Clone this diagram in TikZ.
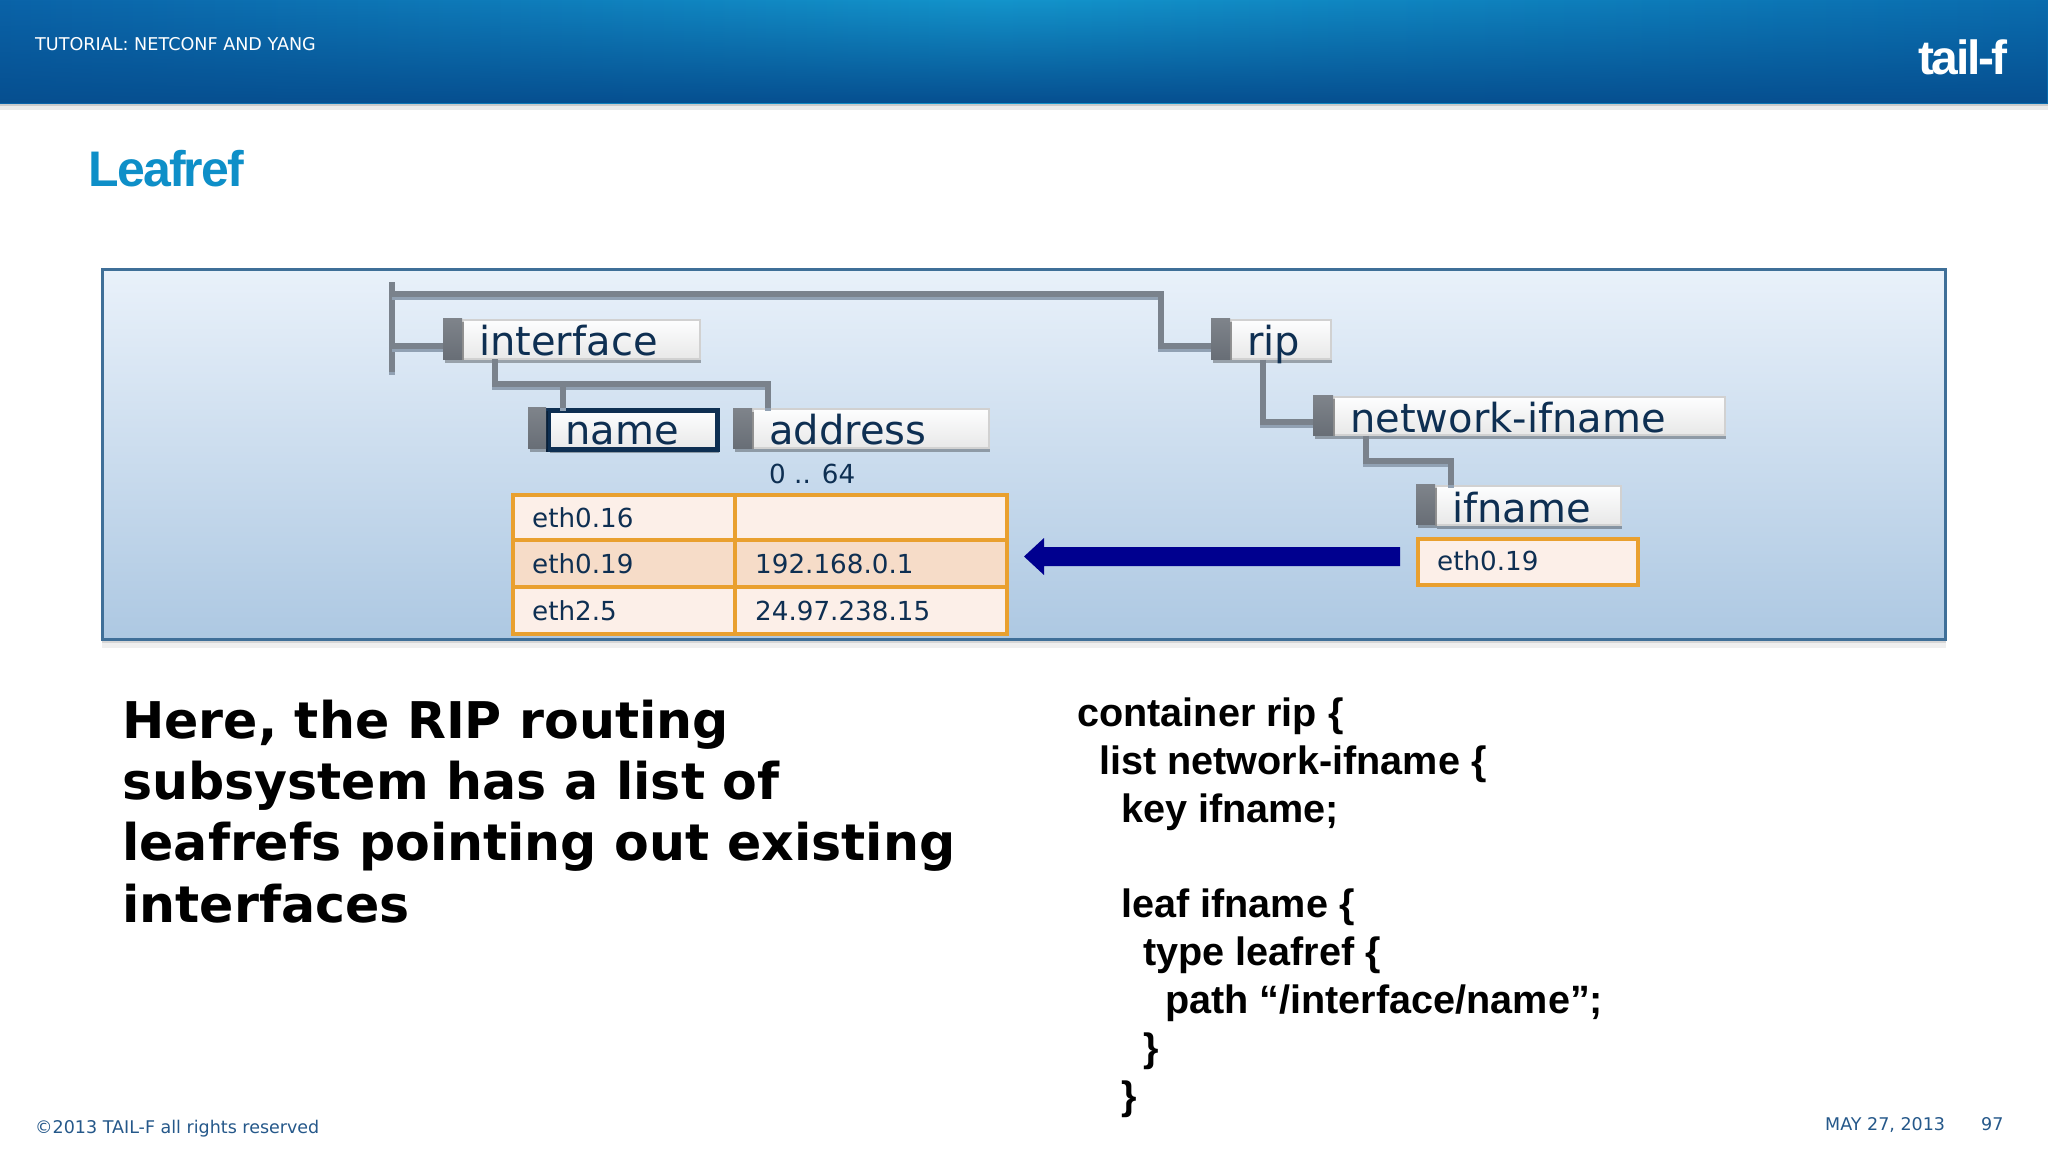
\documentclass[tikz,border=0pt]{standalone}
\usepackage{fontspec}
\setmainfont{DejaVu Sans}
\newfontfamily\arialb[Scale=1]{Liberation Sans}
\usetikzlibrary{fadings}
\definecolor{hdrL}{HTML}{0A63A8}
\definecolor{hdrM}{HTML}{1394CB}
\definecolor{hdrR}{HTML}{0A6CAE}
\definecolor{hdrD}{HTML}{064F90}
\definecolor{panelT}{HTML}{E9F1FA}
\definecolor{panelB}{HTML}{ADC8E2}
\definecolor{panelE}{HTML}{3F6F98}
\definecolor{conn}{HTML}{7A828C}
\definecolor{grip}{HTML}{686E76}
\definecolor{ink}{HTML}{0E2F52}
\definecolor{org}{HTML}{E9A02F}
\definecolor{cellA}{HTML}{FCEFE8}
\definecolor{cellB}{HTML}{F6DCC8}
\definecolor{arrowc}{HTML}{00008F}
\definecolor{title}{HTML}{0E8FC8}
\definecolor{foot}{HTML}{25588A}
\newcommand{\fs}[1]{\fontsize{#1}{#1}\selectfont}
\tikzset{
 x=1pt,y=-1pt,
 softshadow/.style={preaction={fill=black,opacity=.3,transform canvas={shift={(1.5pt,-4pt)}}}},
 connline/.style={draw=conn,line width=5.5pt,line cap=butt,line join=miter,
   preaction={draw=conn!55!panelB,line width=5.5pt,transform canvas={yshift=-3pt}}},
 treebox/.style={softshadow,draw=black!18,line width=1.5pt,top color=white!92!panelT,bottom color=black!9,inner sep=0pt,anchor=north west},
 gripbox/.style={softshadow,top color=grip!85,bottom color=grip,draw=none,inner sep=0pt,anchor=north west},
 treelabel/.style={anchor=base west,inner sep=0pt,text=ink,font=\fs{40}},
 celltext/.style={anchor=base west,inner sep=0pt,text=ink,font=\fs{26.2}},
 cell/.style={draw=org,line width=3.5pt,inner sep=0pt,anchor=north west},
 bodyline/.style={anchor=base west,inner sep=0pt,text=black,font=\bfseries\fs{50.6}},
 codeline/.style={anchor=base west,inner sep=0pt,text=black,font=\arialb\bfseries\fs{39.6}},
 foottext/.style={anchor=base west,inner sep=0pt,text=foot,font=\fs{17.5}},
}
\begin{document}
\begin{tikzpicture}
\useasboundingbox (0,0) rectangle (2048,1152);
\fill[white] (0,0) rectangle (2048,1152);
% header
\fill[black!40,opacity=.5] (0,102) rectangle (2048,106);
\fill[black!25,opacity=.3] (0,106) rectangle (2048,110);
\shade[left color=hdrL,right color=hdrM] (0,0) rectangle (1000,103);
\shade[left color=hdrM,right color=hdrR] (1000,0) rectangle (2048,103);
\fill[hdrD,path fading=north] (0,0) rectangle (2048,103);
\node[anchor=base west,inner sep=0pt,text=white,font=\fs{17.6}] (hdrtext) at (35,50) {TUTORIAL: NETCONF AND YANG};
\node[anchor=base west,inner sep=0pt,text=white,font=\arialb\bfseries\fs{48}] (logo) at (1918,74) {\addfontfeature{LetterSpace=-5}tail-f};
% title
\node[anchor=base west,inner sep=0pt,text=title,font=\arialb\bfseries\fs{50}] (pagetitle) at (88,186) {\addfontfeature{LetterSpace=-3.6}Leafref};
% panel
\fill[black!40,opacity=.4] (102,638) rectangle (1946,643);
\fill[black!20,opacity=.3] (102,643) rectangle (1946,648);
\node[draw=panelE,line width=3pt,top color=panelT,bottom color=panelB,inner sep=0pt,anchor=north west,minimum width=1843pt,minimum height=370pt] (panel) at (101,268) {};
% tree boxes
\node[treebox,minimum width=237pt,minimum height=39pt] (ifbox) at (462,319) {};
\node[gripbox,minimum width=19pt,minimum height=41pt] (ifgrip) at (443,318) {};
\node[treebox,minimum width=100pt,minimum height=39pt] (ripbox) at (1230,319) {};
\node[gripbox,minimum width=19pt,minimum height=41pt] (ripgrip) at (1211,318) {};
\node[treebox,minimum width=391pt,minimum height=38pt] (netbox) at (1333,396) {};
\node[gripbox,minimum width=20pt,minimum height=40pt] (netgrip) at (1313,395) {};
\node[treebox,minimum width=185pt,minimum height=39pt] (ifnbox) at (1435,485) {};
\node[gripbox,minimum width=19pt,minimum height=40pt] (ifngrip) at (1416,484) {};
\node[treebox,minimum width=236pt,minimum height=39pt] (addrbox) at (752,408) {};
\node[gripbox,minimum width=19pt,minimum height=40pt] (addrgrip) at (733,408) {};
\node[treebox,draw=ink,line width=4.5pt,minimum width=169pt,minimum height=39pt] (namebox) at (546,408) {};
\node[gripbox,minimum width=18pt,minimum height=41pt] (namegrip) at (528,407) {};
% connectors
\coordinate (barT) at (392,282);
\coordinate (barB) at (392,372);
\coordinate (j1) at (392,294);
\coordinate (j2) at (1161,294);
\coordinate (j3) at (392,346);
\coordinate (k1) at (495,384);
\coordinate (k2) at (768,384);
\coordinate (k3) at (563,384);
\coordinate (m1) at (1263,422);
\coordinate (n1) at (1366,461);
\coordinate (n2) at (1451,461);
\draw[connline] (barT) -- (barB);
\draw[connline] (j1) -- (j2) -- (j2 |- j3) -- (j3 -| ripgrip.west);
\draw[connline] (j3) -- (j3 -| ifgrip.west);
\draw[connline] (k1 |- ifgrip.south) -- (k1) -- (k2) -- (k2 |- addrbox.north);
\draw[connline] (k3) -- (k3 |- namebox.north);
\draw[connline] (m1 |- ripbox.south) -- (m1) -- (m1 -| netgrip.west);
\draw[connline] (n1 |- netbox.south) -- (n1) -- (n2) -- (n2 |- ifnbox.north);
% tree labels
\node[treelabel] (iftext) at (479,355) {interface};
\node[treelabel] (nametext) at (565,444) {name};
\node[treelabel] (addrtext) at (769,444) {address};
\node[treelabel] (riptext) at (1247,355) {rip};
\node[treelabel] (nettext) at (1350,432) {network-ifname};
\node[treelabel] (ifntext) at (1452,522) {ifname};
\node[celltext] (range) at (769,483) {0 .. 64};
% table
\node[cell,fill=cellA,minimum width=222pt,minimum height=45pt] (c11) at (511,493) {};
\node[cell,fill=cellA,minimum width=272pt,minimum height=45pt] (c12) at (733,493) {};
\node[cell,fill=cellB,minimum width=222pt,minimum height=47pt] (c21) at (511,538) {};
\node[cell,fill=cellB,minimum width=272pt,minimum height=47pt] (c22) at (733,538) {};
\node[cell,fill=cellA,minimum width=222pt,minimum height=47pt] (c31) at (511,585) {};
\node[cell,fill=cellA,minimum width=272pt,minimum height=47pt] (c32) at (733,585) {};
\node[celltext] (t11) at (532,527) {eth0.16};
\node[celltext] (t21) at (532,573) {eth0.19};
\node[celltext] (t22) at (755,573) {192.168.0.1};
\node[celltext] (t31) at (532,620) {eth2.5};
\node[celltext] (t32) at (755,620) {24.97.238.15};
\node[cell,fill=cellA,minimum width=220pt,minimum height=46pt] (refcell) at (1416,537) {};
\node[celltext] (reftext) at (1437,570) {eth0.19};
% arrow
\fill[arrowc] (1400,547) -- (1044,547) -- (1044,538) -- (1024,556.5) -- (1044,575) -- (1044,566) -- (1400,566) -- cycle;
% body
\node[bodyline] (b1) at (122,738) {Here, the RIP routing};
\node[bodyline] (b2) at (122,799) {subsystem has a list of};
\node[bodyline] (b3) at (122,860) {leafrefs pointing out existing};
\node[bodyline] (b4) at (122,922) {interfaces};
% code
\node[codeline] (l1) at (1077,726) {container rip \{};
\node[codeline] (l2) at (1099,774) {list network-ifname \{};
\node[codeline] (l3) at (1121,822) {key ifname;};
\node[codeline] (l4) at (1121,917) {leaf ifname \{};
\node[codeline] (l5) at (1143,965) {type leafref \{};
\node[codeline] (l6) at (1165,1013) {path “/interface/name”;};
\node[codeline] (l7) at (1143,1061) {\}};
\node[codeline] (l8) at (1121,1109) {\}};
% footer
\node[foottext] (f1) at (35,1133) {©2013 TAIL-F all rights reserved};
\node[foottext] (f2) at (1825,1130) {MAY 27, 2013};
\node[foottext] (f3) at (1981,1130) {97};
\end{tikzpicture}
\end{document}
